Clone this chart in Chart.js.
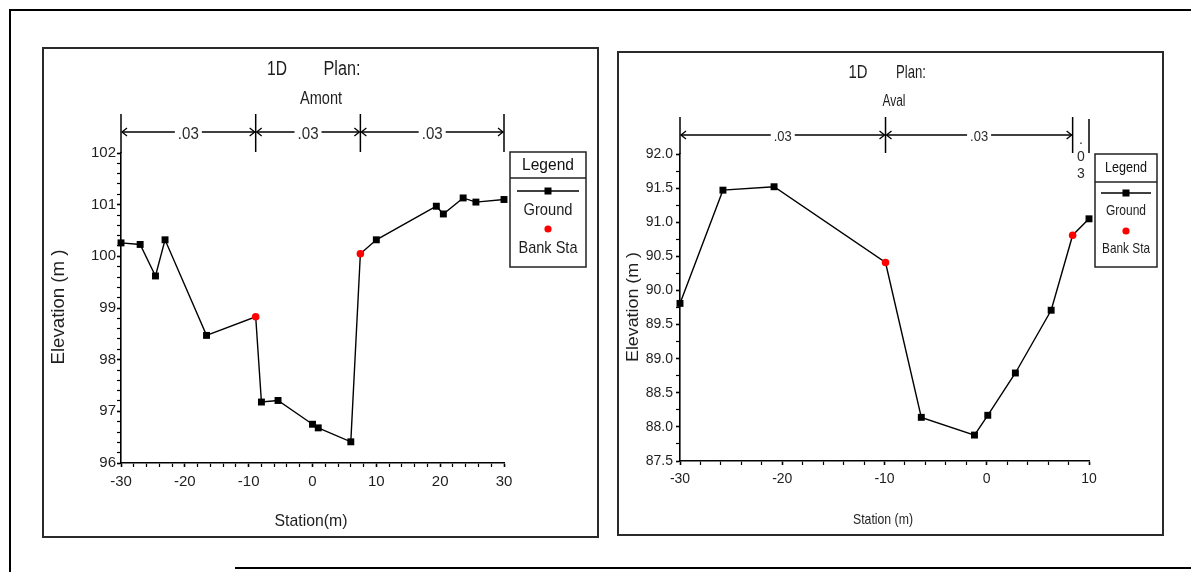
<!DOCTYPE html>
<html>
<head>
<meta charset="utf-8">
<script src="https://cdn.jsdelivr.net/npm/chart.js@4/dist/chart.umd.min.js"></script>
<style>
  html, body { margin: 0; padding: 0; background: #fff; }
  body { width: 1191px; height: 572px; position: relative; overflow: hidden; }
  .ln { position: absolute; background: #000; }
  .panel { position: absolute; border: 2px solid #2a2a2a; box-sizing: border-box; background: #fff; }
  .panel canvas { position: absolute; left: 0; top: 0; }
</style>
</head>
<body>
<div class="ln" style="left:9px;top:9px;width:1182px;height:2px;"></div>
<div class="ln" style="left:9px;top:9px;width:2px;height:563px;"></div>
<div class="ln" style="left:235px;top:567px;width:956px;height:2px;"></div>

<div class="panel" id="p1" style="left:42px;top:47px;width:557px;height:491px;"><canvas id="amontChart"></canvas></div>
<div class="panel" id="p2" style="left:617px;top:51px;width:547px;height:485px;"><canvas id="avalChart"></canvas></div>

<script>
const FONT = '"Liberation Sans Narrow", "Arial Narrow", "Liberation Sans", Arial, sans-serif';
const BORDER = 2;

// Amont cross section
const amontStation  = [-30, -27, -24.6, -23.1, -16.6, -8.9, -8.0, -5.4, 0, 0.9, 6.0, 7.5, 10, 19.4, 20.5, 23.6, 25.6, 30];
const amontElev     = [100.26, 100.23, 99.62, 100.32, 98.47, 98.83, 97.18, 97.21, 96.75, 96.68, 96.41, 100.05, 100.32, 100.97, 100.82, 101.13, 101.05, 101.10];
const amontBankSta  = [-8.9, 7.5];
const amontBankElev = [98.83, 100.05];
const amontNBreaks  = [-30, -8.9, 7.5, 30];
const amontNValues  = ['.03', '.03', '.03'];
const amontXTicks   = [-30, -20, -10, 0, 10, 20, 30];
const amontYTicks   = [96, 97, 98, 99, 100, 101, 102];

// Aval cross section
const avalStation  = [-30, -25.8, -20.8, -9.9, -6.4, -1.2, 0.1, 2.8, 6.3, 8.4, 10];
const avalElev     = [89.81, 91.47, 91.52, 90.41, 88.14, 87.88, 88.17, 88.79, 89.71, 90.81, 91.05];
const avalBankSta  = [-9.9, 8.4];
const avalBankElev = [90.41, 90.81];
const avalNBreaks  = [-30, -9.9, 8.4, 10];
const avalNValues  = ['.03', '.03', '.03'];
const avalXTicks   = [-30, -20, -10, 0, 10];
const avalYTicks   = [87.5, 88.0, 88.5, 89.0, 89.5, 90.0, 90.5, 91.0, 91.5, 92.0];

function drawText(ctx, s, x, y, size, w, o = {}) {
  ctx.save();
  ctx.font = size + 'px ' + FONT;
  ctx.fillStyle = o.color || '#1e1e1e';
  ctx.textAlign = 'center';
  ctx.textBaseline = 'middle';
  ctx.translate(x, y);
  if (o.rot) ctx.rotate(o.rot);
  const m = ctx.measureText(s).width;
  if (w) ctx.scale(w / m, 1);
  ctx.fillText(s, 0, 0);
  ctx.restore();
}

function line(ctx, x1, y1, x2, y2) {
  ctx.beginPath(); ctx.moveTo(x1, y1); ctx.lineTo(x2, y2); ctx.stroke();
}

function buildChart(id, p) {
  const cv = document.getElementById(id);
  const ox = p.box[0] + BORDER, oy = p.box[1] + BORDER;
  const cw = p.box[2] - 2 * BORDER, ch = p.box[3] - 2 * BORDER;
  cv.width = cw; cv.height = ch;
  const yW = 40, xH = 30;
  const bankSet = new Set(p.bankSta);
  const isTick = (list, v) => list.find(t => Math.abs(t - v) < 1e-6);

  const decor = {
    id: 'decor',
    afterDraw(chart) {
      const ctx = chart.ctx, a = chart.chartArea, xs = chart.scales.x;
      ctx.save();
      ctx.strokeStyle = '#000';
      ctx.lineWidth = 1.5;
      // y axis runs up to the n-value bar
      line(ctx, a.left, a.top, a.left, p.nTop - oy);
      const bx = p.nBreaks.map(v => xs.getPixelForValue(v));
      bx.forEach((x, i) => { if (i > 0) line(ctx, x, p.nTop - oy + (i === bx.length - 1 ? p.endDrop : 0), x, p.nBot - oy); });
      const ny = p.nY - oy;
      for (let i = 0; i < bx.length - 1; i++) {
        const xa = bx[i], xb = bx[i + 1], mid = (xa + xb) / 2;
        if (xb - xa > 30) {
          ctx.lineWidth = 1.3;
          line(ctx, xa + 1, ny, xb - 1, ny);
          ctx.beginPath();
          ctx.moveTo(xa + 6, ny - 4); ctx.lineTo(xa + 1, ny); ctx.lineTo(xa + 6, ny + 4);
          ctx.moveTo(xb - 6, ny - 4); ctx.lineTo(xb - 1, ny); ctx.lineTo(xb - 6, ny + 4);
          ctx.stroke();
          ctx.fillStyle = '#fff';
          ctx.fillRect(mid - p.nW / 2 - 3, ny - 6, p.nW + 6, 12);
          drawText(ctx, p.nValues[i], mid, ny + 2, p.nSize, p.nW, { color: '#2b2b2b' });
        } else {
          p.nValues[i].split('').forEach((c, k) => {
            drawText(ctx, c, mid, ny + 5 + k * 17, p.nSize - 1, null, { color: '#2b2b2b' });
          });
        }
      }
      // titles
      p.texts.forEach(t => drawText(ctx, t.s, t.x - ox, t.y - oy, t.size, t.w, { rot: t.rot }));
      // legend box
      const L = p.legend;
      ctx.lineWidth = 1.5;
      ctx.strokeStyle = '#222';
      ctx.strokeRect(L.x - ox, L.y - oy, L.w, L.h);
      line(ctx, L.x - ox, L.div - oy, L.x + L.w - ox, L.div - oy);
      const cx = L.x + L.w / 2 - ox;
      drawText(ctx, 'Legend', cx, (L.y + L.div) / 2 - oy, L.size, L.wLegend, { color: '#111' });
      ctx.lineWidth = 1.3; ctx.strokeStyle = '#000';
      line(ctx, L.l1 - ox, L.ly - oy, L.l2 - ox, L.ly - oy);
      ctx.fillStyle = '#000';
      ctx.fillRect(cx - 3.5, L.ly - oy - 3.5, 7, 7);
      drawText(ctx, 'Ground', cx, L.gy - oy, L.size, L.wGround);
      ctx.fillStyle = '#ff0000';
      ctx.beginPath(); ctx.arc(cx, L.ry - oy, 3.6, 0, Math.PI * 2); ctx.fill();
      drawText(ctx, 'Bank Sta', cx, L.by - oy, L.size, L.wBank);
      ctx.restore();
    }
  };

  return new Chart(cv, {
    type: 'scatter',
    data: {
      datasets: [
        {
          label: 'Bank Sta',
          data: p.bankSta.map((x, i) => ({ x, y: p.bankElev[i] })),
          pointStyle: 'circle', pointRadius: 3.8,
          backgroundColor: '#ff0000', borderColor: '#ff0000', borderWidth: 0,
          showLine: false, clip: false
        },
        {
          label: 'Ground',
          data: p.station.map((x, i) => ({ x, y: p.elev[i] })),
          showLine: true, borderColor: '#000', borderWidth: 1.4,
          pointStyle: 'rect',
          pointRadius: c => bankSet.has(p.station[c.dataIndex]) ? 0 : 4.9,
          backgroundColor: '#000', pointBorderWidth: 0,
          clip: false
        }
      ]
    },
    options: {
      responsive: false,
      animation: false,
      events: [],
      layout: {
        padding: {
          left: p.area[0] - ox - yW,
          right: ox + cw - p.area[2],
          top: p.area[1] - oy,
          bottom: oy + ch - p.area[3] - xH
        }
      },
      plugins: { legend: { display: false }, tooltip: { enabled: false } },
      scales: {
        x: {
          type: 'linear', min: p.xMin, max: p.xMax,
          afterFit: s => { s.height = xH; },
          border: { color: '#000', width: 1.6 },
          grid: { drawOnChartArea: false, color: '#000', tickLength: 4,
                  tickWidth: c => isTick(p.xTicks, c.tick.value) !== undefined ? 1.6 : 1.2 },
          ticks: {
            stepSize: p.xMinor, autoSkip: false, maxRotation: 0, padding: 6,
            color: '#1e1e1e', font: { family: FONT, size: p.xFont },
            callback: v => { const t = isTick(p.xTicks, v); return t === undefined ? '' : String(t); }
          }
        },
        y: {
          type: 'linear', min: p.yMin, max: p.yMax,
          afterFit: s => { s.width = yW; },
          border: { color: '#000', width: 1.6 },
          grid: { drawOnChartArea: false, color: '#000', tickLength: 4,
                  tickWidth: c => isTick(p.yTicks, c.tick.value) !== undefined ? 1.6 : 1.2 },
          ticks: {
            stepSize: p.yMinor, autoSkip: false, padding: p.yPad,
            color: '#1e1e1e', font: { family: FONT, size: p.yFont },
            callback: v => { const t = isTick(p.yTicks, v); return t === undefined ? '' : t.toFixed(p.yDec); }
          }
        }
      }
    },
    plugins: [decor]
  });
}

buildChart('amontChart', {
  box: [42, 47, 557, 491], area: [121, 153, 504, 463],
  station: amontStation, elev: amontElev, bankSta: amontBankSta, bankElev: amontBankElev,
  nBreaks: amontNBreaks, nValues: amontNValues, xTicks: amontXTicks, yTicks: amontYTicks,
  xMin: -30, xMax: 30, xMinor: 2, yMin: 96, yMax: 102, yMinor: 0.2, yDec: 0,
  xFont: 15, yFont: 15, yPad: 1,
  nTop: 114, nBot: 152, nY: 132, endDrop: 0, nSize: 17, nW: 21,
  texts: [
    { s: '1D', x: 277, y: 69, size: 20, w: 20 },
    { s: 'Plan:', x: 342, y: 69, size: 20, w: 37 },
    { s: 'Amont', x: 321, y: 99, size: 18, w: 42 },
    { s: 'Station(m)', x: 311, y: 521, size: 17, w: 73 },
    { s: 'Elevation (m )', x: 59, y: 307, size: 18, w: 115, rot: -Math.PI / 2 }
  ],
  legend: { x: 510, y: 152, w: 76, h: 115, div: 178, size: 17,
            wLegend: 52, wGround: 49, wBank: 59,
            l1: 517, l2: 579, ly: 191, gy: 210, ry: 229, by: 248 }
});

buildChart('avalChart', {
  box: [617, 51, 547, 485], area: [680, 154, 1089, 461],
  station: avalStation, elev: avalElev, bankSta: avalBankSta, bankElev: avalBankElev,
  nBreaks: avalNBreaks, nValues: avalNValues, xTicks: avalXTicks, yTicks: avalYTicks,
  xMin: -30, xMax: 10, xMinor: 2, yMin: 87.5, yMax: 92, yMinor: 0.25, yDec: 1,
  xFont: 14, yFont: 14, yPad: 3,
  nTop: 117, nBot: 153, nY: 135, endDrop: 2, nSize: 15, nW: 18,
  texts: [
    { s: '1D', x: 858, y: 73, size: 19, w: 19 },
    { s: 'Plan:', x: 911, y: 73, size: 19, w: 30 },
    { s: 'Aval', x: 894, y: 102, size: 16, w: 23 },
    { s: 'Station (m)', x: 883, y: 520, size: 15, w: 60 },
    { s: 'Elevation (m )', x: 633, y: 307, size: 17, w: 110, rot: -Math.PI / 2 }
  ],
  legend: { x: 1095, y: 154, w: 62, h: 113, div: 182, size: 15,
            wLegend: 42, wGround: 40, wBank: 48,
            l1: 1101, l2: 1151, ly: 193, gy: 211, ry: 231, by: 249 }
});
</script>
</body>
</html>
